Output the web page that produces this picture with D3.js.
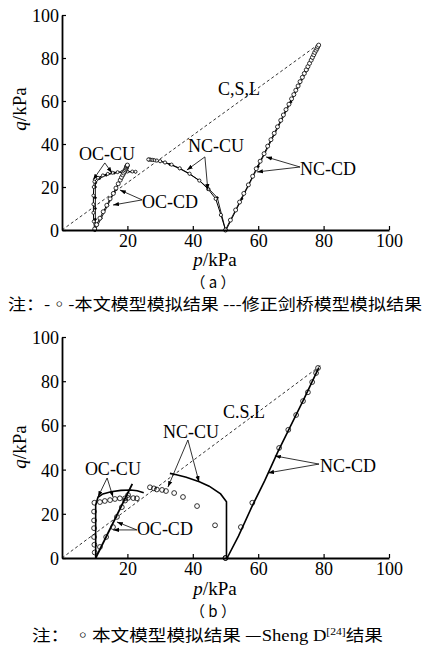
<!DOCTYPE html>
<html>
<head>
<meta charset="utf-8">
<script src="https://cdn.jsdelivr.net/npm/d3@7"></script>
<style>
body { margin: 0; background: #fff; }
text { fill: #000; }
.serif, .serif text { font-family: "Liberation Serif", "DejaVu Serif", serif; }
.cjk { font-family: "Noto Sans CJK SC", sans-serif; }
</style>
</head>
<body>
<div id="chart"></div>
<script>
// values, [p, q] in kPa
var csl = [[0, 0], [79, 87]];
var pTicks = [20, 40, 60, 80, 100];
var qTicks = [0, 20, 40, 60, 80, 100];

// (a) this model (-o-)
var aModelOCCU = [[10,0],[9.7,4],[9.6,8],[9.6,12],[9.6,16],[9.7,20],[9.9,22.5],[11,24.3],[12.5,25.4],[14,26.1],[15.5,26.6],[17,26.9],[18.5,27.1],[20,27.2],[21.5,27.2],[22.5,27.1]];
var aModelOCCD = [[10,0.5],[10.6,2.5],[11.6,5.5],[12.6,8.5],[13.7,11.5],[14.7,14.5],[15.7,17],[16.5,19.5],[17.2,21.5],[17.8,23.2],[18.2,24.5],[18.6,25.6],[18.9,26.5],[19.2,27.3],[19.4,28],[19.6,28.6],[19.7,29.1],[19.8,29.5],[19.9,29.9],[20,30.2]];
var aModelNCCU = [[50,0],[48.6,7],[47,14.5],[44.7,19],[42,23],[39,26.2],[36,28.7],[33.5,30.4],[31.5,31.4],[30,32],[29,32.3],[28.2,32.5],[27.6,32.6],[27.1,32.7],[26.7,32.8],[26.4,32.8]];
var aModelNCCD = [[50,0],[51.5,4.6],[53.1,9.3],[54.3,13],[55.6,17],[57,21],[58.3,25],[59.4,28.5],[60.6,32],[61.8,35.5],[62.9,39],[63.9,42],[64.9,45],[65.9,48],[66.9,51],[67.7,53.5],[68.5,56],[69.4,58.5],[70.2,61],[70.9,63],[71.5,65],[72.2,67],[72.8,69],[73.5,71],[74.1,72.8],[74.7,74.5],[75.2,76],[75.7,77.5],[76.2,79],[76.6,80.3],[77,81.5],[77.3,82.6],[77.7,83.6],[78,84.5],[78.2,85.3],[78.5,86]];

// (a) modified Cam-clay (---)
var aCamOCCU = [[10.2,0],[10.2,5],[10.2,10],[10.2,15],[10.2,20],[10.3,22],[11.5,24],[13.5,25.5],[16,26.5],[19,27],[22.5,27]];
var aCamOCCD = [[10.2,0],[12,5.5],[14,11.5],[16,17.5],[18,23.5],[19,26.5],[19.7,28.8],[20.2,30]];
var aCamNCCU = [[50,0],[47.5,15],[45,19],[42,23],[39,26],[36,28.5],[33,30.5],[30,32],[28,32.5],[26.5,32.6]];
var aCamNCCD = [[50.2,0],[55,14.5],[60,29.5],[65,44.5],[70,59.5],[75,74.5],[78.3,85]];

// (b) Sheng D results (solid)
var bShengOCCU = [[10.3,0],[10.3,24],[11,27.5],[12.5,29],[15,30],[18,30.6],[21,30.8],[23,30.4],[25,29.5]];
var bShengOCCD = [[10.3,0],[21.5,33.5]];
var bShengNCCU = [[50.3,0],[50.3,25.5],[48.5,29],[45,32.5],[42,34.5],[38,36.5],[35,37.7],[33,38.3]];
var bShengNCCD = [[50.5,0],[54,10],[58,23],[62,35],[66,48],[70,60],[74,72],[78.5,86]];

// (b) this model (circles)
var bModelOCCU = [[10,2.5],[9.9,6],[9.8,9.5],[9.8,13.5],[9.8,17],[9.8,21],[9.9,25],[11.6,25.3],[13.1,25.8],[14.7,26.2],[16.2,26.7],[17.7,27],[19.3,27],[20.2,27.2],[21.8,27.1],[22.9,27]];
var bModelOCCD = [[11.6,5],[13.5,9.5],[15.6,14],[16.8,18.6],[18.3,23],[19.3,26],[20.2,28.5]];
var bModelNCCU = [[50,0],[46.8,14.8],[41.3,23.5],[37,27.6],[34.3,29.4],[31.8,30.3],[30.6,30.8],[29,31],[28.1,31.5],[26.9,32]];
var bModelNCCD = [[50,0],[54.7,14],[58.2,25],[66.4,49.8],[69.2,58],[71.6,64.7],[73.7,71],[75.2,75],[76.5,79.6],[77.7,83.7],[78.3,86]];

// labels with arrows: text anchor point, arrow origin, arrow tips (data units)
var aNotes = [
  {t: "C,S,L", at: [47.7, 62.8], tips: []},
  {t: "NC-CD", at: [72.8, 25.6], from: [72.8, 29.3], tips: [[62.4, 34], [59.6, 27]]},
  {t: "NC-CU", at: [38.5, 36.3], from: [43.7, 34], tips: [[38.2, 27.9], [44.6, 18.6]]},
  {t: "OC-CU", at: [5.2, 32.6], from: [13.1, 31.2], tips: [[9.5, 23.3], [15.3, 26.5]]},
  {t: "OC-CD", at: [24.5, 10.2], from: [24.5, 14], tips: [[17.7, 18.6], [15.6, 11.6]]}
];
var bNotes = [
  {t: "C.S.L", at: [49.2, 63.3], tips: []},
  {t: "NC-CD", at: [78.9, 38.9], from: [78.6, 42.5], tips: [[65.1, 46.2], [63, 38.5]]},
  {t: "NC-CU", at: [30.9, 54.3], from: [38.5, 53.4], tips: [[32.4, 32.1], [41.9, 34.4]]},
  {t: "OC-CU", at: [7, 37.6], from: [13.8, 36.2], tips: [[11, 27.6], [15.6, 27.6]]},
  {t: "OC-CD", at: [22.9, 10.4], from: [22.9, 12.7], tips: [[16.8, 16.3], [15.6, 12.7]]}
];

var svg = d3.select("#chart").append("svg")
    .attr("width", 429)
    .attr("height", 651)
    .style("background", "#fff");

svg.append("defs").append("marker")
    .attr("id", "arr")
    .attr("viewBox", "0 0 10 10")
    .attr("refX", 10).attr("refY", 5)
    .attr("markerWidth", 6).attr("markerHeight", 6)
    .attr("markerUnits", "userSpaceOnUse")
    .attr("orient", "auto")
  .append("path")
    .attr("d", "M0,1.5L10,5L0,8.5Z")
    .attr("fill", "#000");

function drawPanel(o) {
  var x = d3.scaleLinear().domain([0, 100]).range(o.xr);
  var y = d3.scaleLinear().domain([0, 100]).range(o.yr);
  var line = d3.line().x(function(d) { return x(d[0]); }).y(function(d) { return y(d[1]); });
  var g = svg.append("g").attr("class", "serif");

  // critical state line
  g.append("path").datum(csl)
      .attr("d", line)
      .attr("fill", "none")
      .attr("stroke", "#000")
      .attr("stroke-width", 0.8)
      .attr("stroke-dasharray", "3,2.5");

  o.lines.forEach(function(s) {
    g.append("path").datum(s.data)
        .attr("d", line)
        .attr("fill", "none")
        .attr("stroke", "#000")
        .attr("stroke-width", s.w);
  });

  o.dots.forEach(function(s) {
    g.selectAll(null).data(s.data).enter().append("circle")
        .attr("cx", function(d) { return x(d[0]); })
        .attr("cy", function(d) { return y(d[1]); })
        .attr("r", s.r)
        .attr("fill", s.fill)
        .attr("stroke", "#000")
        .attr("stroke-width", 0.8);
  });

  // axes
  var xa = g.append("g")
      .attr("transform", "translate(0," + o.yr[0] + ")")
      .call(d3.axisBottom(x).tickValues(pTicks).tickSizeInner(-4).tickSizeOuter(0).tickPadding(4));
  var ya = g.append("g")
      .attr("transform", "translate(" + o.xr[0] + ",0)")
      .call(d3.axisLeft(y).tickValues(qTicks).tickSizeInner(-4).tickSizeOuter(0).tickPadding(3));
  [xa, ya].forEach(function(a) {
    a.attr("font-family", null).attr("font-size", null);
    a.select(".domain").attr("stroke-width", 1.8);
    a.selectAll(".tick line").attr("stroke-width", 1.2);
    a.selectAll("text").style("font-size", "18px").attr("fill", "#000");
  });
  ya.selectAll(".tick text").attr("dy", "0.36em");

  // axis titles
  var xt = g.append("text")
      .attr("x", o.xTitle[0]).attr("y", o.xTitle[1])
      .attr("text-anchor", "middle")
      .style("font-size", "19px");
  xt.append("tspan").attr("font-style", "italic").text("p");
  xt.append("tspan").text("/kPa");

  var yt = g.append("text")
      .attr("transform", "translate(" + o.yTitle[0] + "," + o.yTitle[1] + ") rotate(-90)")
      .attr("text-anchor", "middle")
      .style("font-size", "19px");
  yt.append("tspan").attr("font-style", "italic").text("q");
  yt.append("tspan").text("/kPa");

  // callouts
  o.notes.forEach(function(n) {
    g.append("text")
        .attr("x", x(n.at[0])).attr("y", y(n.at[1]))
        .style("font-size", "18px")
        .text(n.t);
    n.tips.forEach(function(t) {
      g.append("line")
          .attr("x1", x(n.from[0])).attr("y1", y(n.from[1]))
          .attr("x2", x(t[0])).attr("y2", y(t[1]))
          .attr("stroke", "#000")
          .attr("stroke-width", 0.8)
          .attr("marker-end", "url(#arr)");
    });
  });

  svg.append("text")
      .attr("class", "cjk")
      .attr("x", o.tag[0]).attr("y", o.tag[1])
      .attr("text-anchor", "middle")
      .style("font-size", "15px")
      .text(o.tagText);
}

drawPanel({
  xr: [62, 389], yr: [230, 15],
  lines: [
    {data: aCamOCCU, w: 0.9}, {data: aCamOCCD, w: 0.9}, {data: aCamNCCU, w: 0.9}, {data: aCamNCCD, w: 0.9},
    {data: aModelOCCU, w: 1}, {data: aModelOCCD, w: 1}, {data: aModelNCCU, w: 1}, {data: aModelNCCD, w: 1}
  ],
  dots: [
    {data: aCamOCCU, r: 1, fill: "#000"}, {data: aCamOCCD, r: 1, fill: "#000"},
    {data: aCamNCCU, r: 1, fill: "#000"}, {data: aCamNCCD, r: 1, fill: "#000"},
    {data: aModelOCCU, r: 1.5, fill: "#fff"}, {data: aModelOCCD, r: 2, fill: "#fff"},
    {data: aModelNCCU, r: 1.6, fill: "#fff"}, {data: aModelNCCD, r: 2, fill: "#fff"}
  ],
  notes: aNotes,
  xTitle: [215, 266], yTitle: [26, 109],
  tag: [213, 288], tagText: "（ a ）"
});

drawPanel({
  xr: [62, 389], yr: [558, 337],
  lines: [
    {data: bShengOCCU, w: 1.6}, {data: bShengOCCD, w: 1.8}, {data: bShengNCCU, w: 1.6}, {data: bShengNCCD, w: 1.6}
  ],
  dots: [
    {data: bModelOCCU, r: 2.4, fill: "none"}, {data: bModelOCCD, r: 2.4, fill: "none"},
    {data: bModelNCCU, r: 2.4, fill: "none"}, {data: bModelNCCD, r: 2.4, fill: "none"}
  ],
  notes: bNotes,
  xTitle: [215, 595], yTitle: [26, 447],
  tag: [213, 617], tagText: "（ b ）"
});

// legend notes
svg.append("text")
    .attr("class", "cjk")
    .attr("x", 8).attr("y", 310)
    .style("font-size", "16px")
    .attr("textLength", 414).attr("lengthAdjust", "spacingAndGlyphs")
    .text("注：-◦-本文模型模拟结果  ---修正剑桥模型模拟结果");

var nb = svg.append("text")
    .attr("class", "cjk")
    .attr("x", 32).attr("y", 641)
    .style("font-size", "16px")
    .attr("textLength", 351).attr("lengthAdjust", "spacingAndGlyphs");
nb.append("tspan").text("注： ◦本文模型模拟结果 —");
nb.append("tspan").attr("class", "serif").text("Sheng D");
nb.append("tspan").attr("class", "serif").style("font-size", "10px").attr("dy", -6).text("[24]");
nb.append("tspan").attr("dy", 6).text("结果");
</script>
</body>
</html>
